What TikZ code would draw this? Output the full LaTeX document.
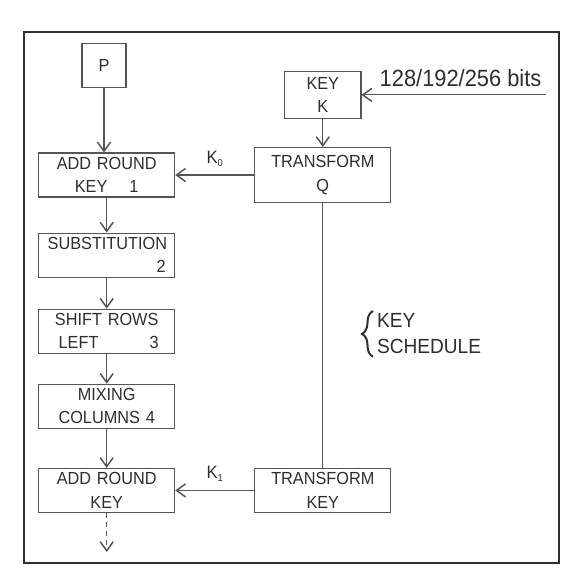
\documentclass[tikz,border=0pt]{standalone}
\usepackage{fontspec}
\setmainfont[FakeStretch=0.93]{Liberation Sans}
\usetikzlibrary{positioning, arrows.meta, decorations.pathreplacing}
\definecolor{linegray}{HTML}{555555}
\definecolor{textgray}{HTML}{2E2E2E}
\newcommand{\kidx}[1]{\raisebox{-3pt}{\fontsize{10}{10}\selectfont #1}}

\begin{document}
\begin{tikzpicture}[x=1pt, y=-1pt, >={Straight Barb[length=9pt, width=13pt, line width=1.5pt]},
  every node/.style={text=textgray},
  box/.style={draw=linegray, line width=1.1pt, font=\fontsize{17.5}{23.3}\selectfont, align=center, inner ysep=0pt},
  stage/.style={box, text width=118pt, inner xsep=9pt, minimum height=44pt},
  link/.style={draw=linegray, line width=1.1pt},
  klabel/.style={midway, above=8pt, inner sep=0pt, font=\fontsize{18}{20}\selectfont}]

\useasboundingbox (0,0) rectangle (573,582);
\draw[draw=textgray, line width=1.4pt] (24,32) rectangle (559,563);

% cipher rounds
\node[stage] (add1) at (106.7,175) {ADD ROUND\\KEY\hspace{22pt}1};
\node[stage, below=35pt of add1] (subst) {SUBSTITUTION\\\hspace*{\fill}2};
\node[stage, below=31pt of subst] (shift) {SHIFT ROWS\\\hspace*{11pt}LEFT\hfill 3\hspace*{7pt}};
\node[stage, below=30pt of shift] (mix) {MIXING\\COLUMNS 4};
\node[stage, below=39pt of mix] (add2) {ADD ROUND\\KEY};
\node[box, minimum width=44pt, minimum height=44pt, above=64pt of add1, xshift=-2.7pt] (plain) {P};

% key schedule
\node[stage, minimum height=55pt, right=79pt of add1] (trq) {TRANSFORM\\Q};
\node[stage, right=79pt of add2] (trk) {TRANSFORM\\KEY};
\node[box, minimum width=76.4pt, minimum height=47pt, above=28pt of trq] (key) {KEY\\K};
\coordinate[right=184.6pt of key.east] (inp);
\node[anchor=base east, inner sep=0pt, font=\fontsize{23.5}{28}\selectfont] (bits) at ([xshift=-4.6pt, yshift=8pt]inp) {128/192/256 bits};
\node[anchor=north west, inner sep=0pt, align=left, font=\fontsize{20.5}{26}\selectfont] (sched) at (377,313) {KEY\\SCHEDULE};

\draw[link, ->] (plain) -- (plain |- add1.north);
\draw[link, ->] (add1) -- (subst);
\draw[link, ->] (subst) -- (shift);
\draw[link, ->] (shift) -- (mix);
\draw[link, ->] (mix) -- (add2);
\coordinate[below=39pt of add2.south] (next);
\draw[link, ->, dash pattern=on 5pt off 4pt] (add2) -- (next);

\draw[link, ->] (inp) -- (key.east);
\draw[link, ->] (key) -- (trq);
\draw[link, ->] (trq.west) -- node[klabel] (k0) {K\kidx{0}} (trq.west -| add1.east);
\draw[link] (trq) -- (trk);
\draw[link, ->] (trk.west) -- node[klabel] (k1) {K\kidx{1}} (add2.east);
\draw[textgray, line width=2pt, decorate, decoration={brace, amplitude=11pt}]
  ([xshift=-4pt, yshift=-3pt]sched.south west) -- ([xshift=-4pt, yshift=2pt]sched.north west);

\end{tikzpicture}
\end{document}
